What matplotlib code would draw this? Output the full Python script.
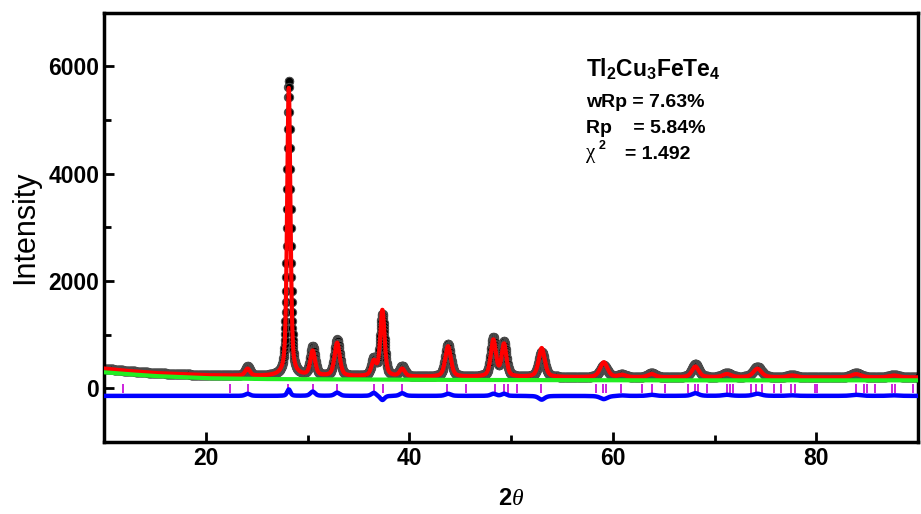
import numpy as np
import matplotlib
matplotlib.use("Agg")
import matplotlib.pyplot as plt

plt.rcParams['font.family'] = ['Liberation Sans', 'DejaVu Sans']
plt.rcParams['mathtext.fontset'] = 'custom'
plt.rcParams['mathtext.rm'] = 'Liberation Sans:bold'
plt.rcParams['mathtext.it'] = 'Liberation Serif:italic'
plt.rcParams['mathtext.bf'] = 'Liberation Sans:bold'


# Background knots (green curve) and calc/obs baseline knots
knot_2theta = [10, 12, 15, 20, 25, 30, 40, 50, 60, 70, 80, 90]
bkg_I = [300, 270, 230, 190, 175, 170, 160, 155, 150, 150, 150, 150]
base_I = [370, 330, 285, 245, 230, 225, 215, 210, 205, 205, 205, 205]

# Reflections: position, observed height, calculated height, FWHM
peak_pos = [24.1, 28.15, 30.5, 32.9, 36.5, 37.35, 39.3, 43.8, 48.25, 49.3,
            53.0, 59.1, 60.9, 63.8, 68.1, 71.2, 74.2, 77.6, 83.9, 87.6]
obs_h = [170, 5500, 540, 680, 320, 1150, 190, 610, 720, 640,
         470, 220, 50, 80, 250, 80, 200, 45, 80, 45]
calc_h = [130, 5380, 460, 620, 260, 1230, 140, 570, 680, 600,
          540, 280, 40, 60, 200, 60, 160, 35, 60, 35]
fwhm = [0.55, 0.38, 0.55, 0.6, 0.55, 0.5, 0.6, 0.65, 0.6, 0.55,
        0.7, 0.85, 0.85, 0.85, 0.8, 0.95, 0.95, 0.95, 1.1, 1.1]

# Bragg reflection markers
bragg_pos = [11.9, 22.4, 24.1, 28.1, 30.5, 32.9, 36.5, 37.4, 39.3, 43.7,
             45.6, 48.4, 49.3, 49.7, 50.6, 52.9, 58.3, 59.0, 59.3, 60.8,
             62.9, 63.8, 65.1, 67.4, 68.1, 68.4, 69.2, 71.2, 71.5, 71.8,
             73.6, 74.1, 74.6, 75.8, 76.5, 77.5, 77.9, 79.9, 80.1, 83.9,
             84.7, 85.0, 85.8, 87.4, 87.7, 89.5]
diff_offset = -140


def profile(x, heights):
    y = np.interp(x, knot_2theta, base_I).astype(float)
    for p, h, w in zip(peak_pos, heights, fwhm):
        g = np.exp(-4 * np.log(2) * ((x - p) / w) ** 2)
        l = 1.0 / (1 + 4 * ((x - p) / w) ** 2)
        y += h * (0.5 * g + 0.5 * l)
    return y


tt = np.arange(10, 90.001, 0.02)
y_obs = profile(tt, obs_h)
y_calc = profile(tt, calc_h)
y_bkg = np.interp(tt, knot_2theta, bkg_I)
y_diff = y_obs - y_calc + diff_offset

fig = plt.figure(figsize=(9.21, 5.14), dpi=100)
ax = fig.add_axes([0.113, 0.14, 0.884, 0.835])

ax.plot(tt, y_obs, 'o', ms=6, mfc='black', mec='#505050', mew=0.7, zorder=2)
ax.plot(tt, y_calc, color='#ff0000', lw=3, zorder=3)
ax.plot(tt, y_bkg, color='#22ee22', lw=3, zorder=4)
ax.vlines(bragg_pos, -80, 80, color='#cc22dd', lw=1.4, zorder=3)
ax.plot(tt, y_diff, color='#0000ff', lw=3.2, zorder=3)

ax.set_xlim(10, 90)
ax.set_ylim(-1000, 7000)
ax.set_xticks([20, 40, 60, 80])
ax.set_xticks([30, 50, 70], minor=True)
ax.set_yticks([0, 2000, 4000, 6000])
ax.set_yticks([1000, 3000, 5000], minor=True)
ax.tick_params(direction='in', which='both', width=2, labelsize=16.5)
ax.tick_params(which='major', length=7)
ax.tick_params(which='minor', length=5)
for lab in ax.get_xticklabels() + ax.get_yticklabels():
    lab.set_fontweight('bold')
for s in ax.spines.values():
    s.set_linewidth(2.5)

ax.set_ylabel('Intensity', fontsize=22, labelpad=6)
ax.set_xlabel(r'2$\mathit{\theta}$', fontsize=17, fontweight='bold', labelpad=12)

ax.text(57.4, 5940, r'Tl$_2$Cu$_3$FeTe$_4$', fontsize=16.5, fontweight='bold', va='center')
ax.text(57.4, 5330, 'wRp = 7.63%', fontsize=14, fontweight='bold', va='center')
ax.text(57.4, 4840, 'Rp    = 5.84%', fontsize=14, fontweight='bold', va='center')
ax.text(57.4, 4380, 'χ', fontsize=15, family='Liberation Serif', va='center')
ax.text(58.6, 4520, '2', fontsize=9, fontweight='bold', va='center')
ax.text(61.2, 4360, '= 1.492', fontsize=14, fontweight='bold', va='center')

fig.savefig('out.png', dpi=100)
